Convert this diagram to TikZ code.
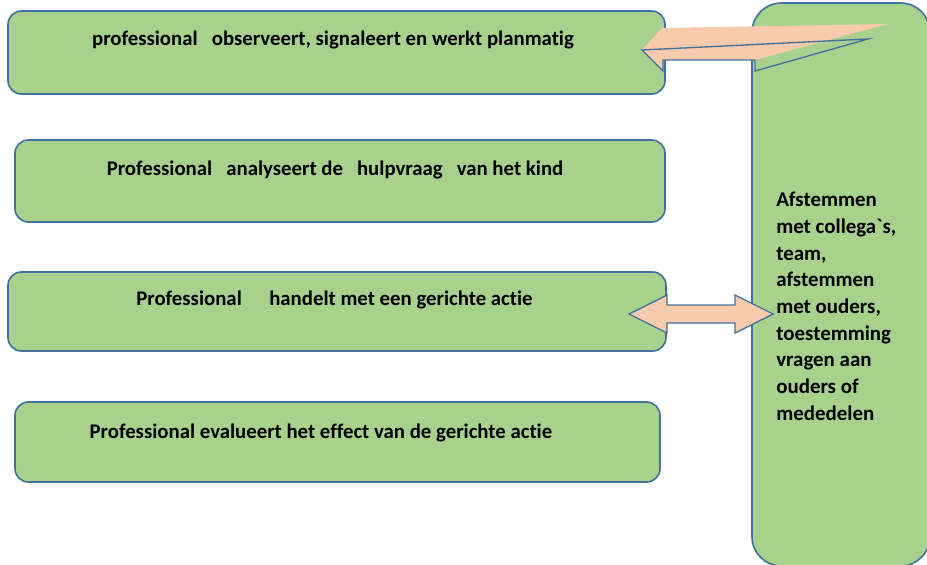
\documentclass[tikz,border=0pt]{standalone}
\usepackage{fontspec}
\setmainfont{Carlito}[Ligatures={TeX,NoCommon}]
\usetikzlibrary{positioning}
\definecolor{boxgreen}{HTML}{A9D18E}
\definecolor{boxline}{HTML}{41719C}
\definecolor{arrowfill}{HTML}{F8CBAD}
\begin{document}
\begin{tikzpicture}[
  x=0.75pt, y=-0.75pt,
  box/.style={draw=boxline,fill=boxgreen,line width=1.2pt,rounded corners=10pt,
              inner sep=0pt},
  boxtext/.style={font=\bfseries\fontsize{15.6}{18}\selectfont,inner sep=0pt},
  arrowshape/.style={fill=arrowfill,draw=boxline,line width=1pt,line join=miter}
]
\useasboundingbox (0,0) rectangle (927,564);
% Right box
\node[box,rounded corners=22pt,minimum width={178*0.75pt},minimum height={563*0.75pt}]
  (afst) at (841,284.5) {};
\node[font=\bfseries\fontsize{15.7}{20}\selectfont,align=left,anchor=north west,inner sep=0pt]
  (afsttext) at (776,192) {Afstemmen\\met collega\textasciigrave s,\\team,\\afstemmen\\met ouders,\\toestemming\\vragen aan\\ouders of\\mededelen};
% Steps
\node[box,minimum width={657*0.75pt},minimum height={83*0.75pt}] (obs) at (336.5,52.5) {};
\node[box,minimum width={650*0.75pt},minimum height={82*0.75pt}] (ana) at (340,181) {};
\node[box,minimum width={658*0.75pt},minimum height={79*0.75pt}] (han) at (337,311.5) {};
\node[box,minimum width={645*0.75pt},minimum height={80*0.75pt}] (eva) at (337.5,442) {};
% Step texts
\node[boxtext] (obstext) at (333,40) {professional \ \ observeert, signaleert en werkt planmatig};
\node[boxtext] (anatext) at (335,170) {Professional \hspace{7pt}analyseert de \hspace{7pt}hulpvraag \hspace{7pt}van het kind};
\node[boxtext] (hantext) at (334.5,300) {Professional \ \ \hspace{10pt}handelt met een gerichte actie};
\node[boxtext] (evatext) at (321,433) {Professional evalueert het effect van de gerichte actie};
% Arrow to the top box
\fill[arrowfill] (642,50) -- (662,28) -- (888,24) -- (755,60) -- (663,60) -- (663,70) -- cycle;
\draw[boxline,line width=1pt] (642,50) -- (868,39) -- (755,71) -- (755,60) -- (663,60)
  -- (663,71) -- cycle;
% Double arrow
\draw[arrowshape] (629,314) -- (667,295) -- (667,305) -- (735,305) -- (735,295)
  -- (773,314) -- (735,333) -- (735,323) -- (667,323) -- (667,333) -- cycle;
\end{tikzpicture}
\end{document}
